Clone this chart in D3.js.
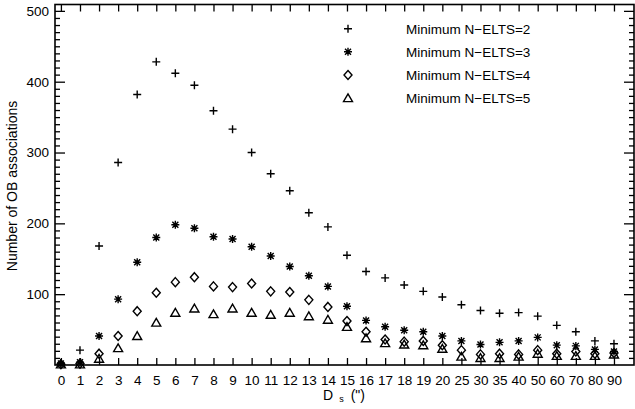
<!DOCTYPE html>
<html>
<head>
<meta charset="utf-8">
<script src="https://cdn.jsdelivr.net/npm/d3@7"></script>
<style>
  html, body { margin: 0; padding: 0; background: #fff; }
  svg { display: block; }
  text { font-family: "Liberation Sans", Arial, Helvetica, sans-serif; fill: #000; }
</style>
</head>
<body>
<svg id="chart" width="635" height="409"></svg>
<script>
// Separation bins D_s (arcsec), drawn as equally spaced categories
const categories = [0, 1, 2, 3, 4, 5, 6, 7, 8, 9, 10, 11, 12, 13, 14, 15, 16, 17, 18, 19, 20,
                    25, 30, 35, 40, 50, 60, 70, 80, 90];

// Number of OB associations found for each minimum number of elements
const minElts2 = [3, 21, 168, 286, 382, 428, 412, 395, 359, 333, 300, 270, 246, 215, 195, 155,
                  132, 123, 113, 104, 96, 85, 77, 73, 74, 69, 56, 47, 34, 30];
const minElts3 = [2, 4, 41, 93, 145, 180, 198, 193, 181, 178, 167, 154, 139, 126, 111, 83,
                  63, 54, 49, 47, 41, 34, 29, 32, 34, 39, 28, 27, 22, 19];
const minElts4 = [1, 2, 16, 41, 76, 102, 117, 124, 111, 110, 115, 104, 103, 92, 82, 62,
                  47, 36, 33, 34, 28, 21, 15, 16, 15, 21, 16, 19, 16, 17];
const minElts5 = [1, 1, 9, 24, 41, 60, 74, 80, 72, 80, 74, 71, 74, 69, 64, 54,
                  38, 31, 29, 28, 23, 12, 10, 10, 12, 16, 13, 13, 13, 15];

const seriesLabels = ["Minimum N\u2212ELTS=2", "Minimum N\u2212ELTS=3",
                      "Minimum N\u2212ELTS=4", "Minimum N\u2212ELTS=5"];
const yMajorTicks = [100, 200, 300, 400, 500];

const svg = d3.select("#chart");
const plotLeft = 55, plotRight = 634, plotTop = 4.5, plotBottom = 365;

const x = d3.scaleLinear().domain([-0.31, 30.05]).range([plotLeft, plotRight]);
const y = d3.scaleLinear().domain([0, 509]).range([plotBottom, plotTop]);

// symbol outlines, centred on the data point
const symbols = [
  "M-4,0H4M0,-4V4",                                   // plus
  "M-4,0H4M0,-4V4M-3,-3L3,3M-3,3L3,-3",               // asterisk
  "M0,-4.5L4,0L0,4.5L-4,0Z",                          // diamond
  "M-4.5,3.6L0,-4.2L4.5,3.6Z"                         // triangle
];
const series = [minElts2, minElts3, minElts4, minElts5];

const idx = d3.range(categories.length);
const yMinor = d3.range(10, 510, 10).filter(v => v % 100 !== 0);

// frame
svg.append("rect")
  .attr("x", plotLeft).attr("y", plotTop)
  .attr("width", plotRight - plotLeft).attr("height", plotBottom - plotTop)
  .attr("fill", "none").attr("stroke", "#000").attr("stroke-width", 1.6);

function styleAxis(g) {
  g.select(".domain").remove();
  g.selectAll(".tick line").attr("stroke", "#000").attr("stroke-width", 1.3);
  g.selectAll(".tick text").attr("font-size", 13.5).attr("font-family", null);
}

// bottom axis with category labels
svg.append("g")
  .attr("transform", `translate(0,${plotBottom})`)
  .call(d3.axisBottom(x).tickValues(idx).tickFormat(i => categories[i])
    .tickSizeInner(-7).tickSizeOuter(0).tickPadding(10))
  .call(styleAxis);

// top axis, ticks only
svg.append("g")
  .attr("transform", `translate(0,${plotTop})`)
  .call(d3.axisTop(x).tickValues(idx).tickFormat("")
    .tickSizeInner(-7).tickSizeOuter(0))
  .call(styleAxis);

// left axis, major ticks with labels
svg.append("g")
  .attr("transform", `translate(${plotLeft},0)`)
  .call(d3.axisLeft(y).tickValues(yMajorTicks).tickFormat(d3.format("d"))
    .tickSizeInner(-10).tickSizeOuter(0).tickPadding(6))
  .call(styleAxis);
// left axis, minor ticks
svg.append("g")
  .attr("transform", `translate(${plotLeft},0)`)
  .call(d3.axisLeft(y).tickValues(yMinor).tickFormat("")
    .tickSizeInner(-5).tickSizeOuter(0))
  .call(styleAxis);

// right axis, major and minor ticks
svg.append("g")
  .attr("transform", `translate(${plotRight},0)`)
  .call(d3.axisRight(y).tickValues(yMajorTicks).tickFormat("")
    .tickSizeInner(-10).tickSizeOuter(0))
  .call(styleAxis);
svg.append("g")
  .attr("transform", `translate(${plotRight},0)`)
  .call(d3.axisRight(y).tickValues(yMinor).tickFormat("")
    .tickSizeInner(-5).tickSizeOuter(0))
  .call(styleAxis);

// data points
series.forEach((vals, s) => {
  svg.append("g")
    .selectAll("path")
    .data(vals)
    .join("path")
    .attr("transform", (v, i) => `translate(${x(i)},${y(v)})`)
    .attr("d", symbols[s])
    .attr("fill", "none")
    .attr("stroke", "#000")
    .attr("stroke-width", 1.4);
});

// legend
const legendY = [28.7, 51.8, 75, 98];
const legend = svg.append("g");
seriesLabels.forEach((label, s) => {
  legend.append("path")
    .attr("transform", `translate(348,${legendY[s]})`)
    .attr("d", symbols[s])
    .attr("fill", "none").attr("stroke", "#000").attr("stroke-width", 1.4);
  legend.append("text")
    .attr("x", 406).attr("y", legendY[s]).attr("dy", "0.36em")
    .attr("font-size", 13.5)
    .text(label);
});

// axis titles
svg.append("text")
  .attr("transform", "translate(17,186) rotate(-90)")
  .attr("text-anchor", "middle")
  .attr("font-size", 14)
  .text("Number of OB associations");

const xt = svg.append("text")
  .attr("x", 323).attr("y", 400)
  .attr("font-size", 14);
xt.append("tspan").text("D");
xt.append("tspan").attr("dx", 6).attr("dy", 2).attr("font-size", 9).text("s");
xt.append("tspan").attr("dx", 7).attr("dy", -2).text("(\")");
</script>
</body>
</html>
